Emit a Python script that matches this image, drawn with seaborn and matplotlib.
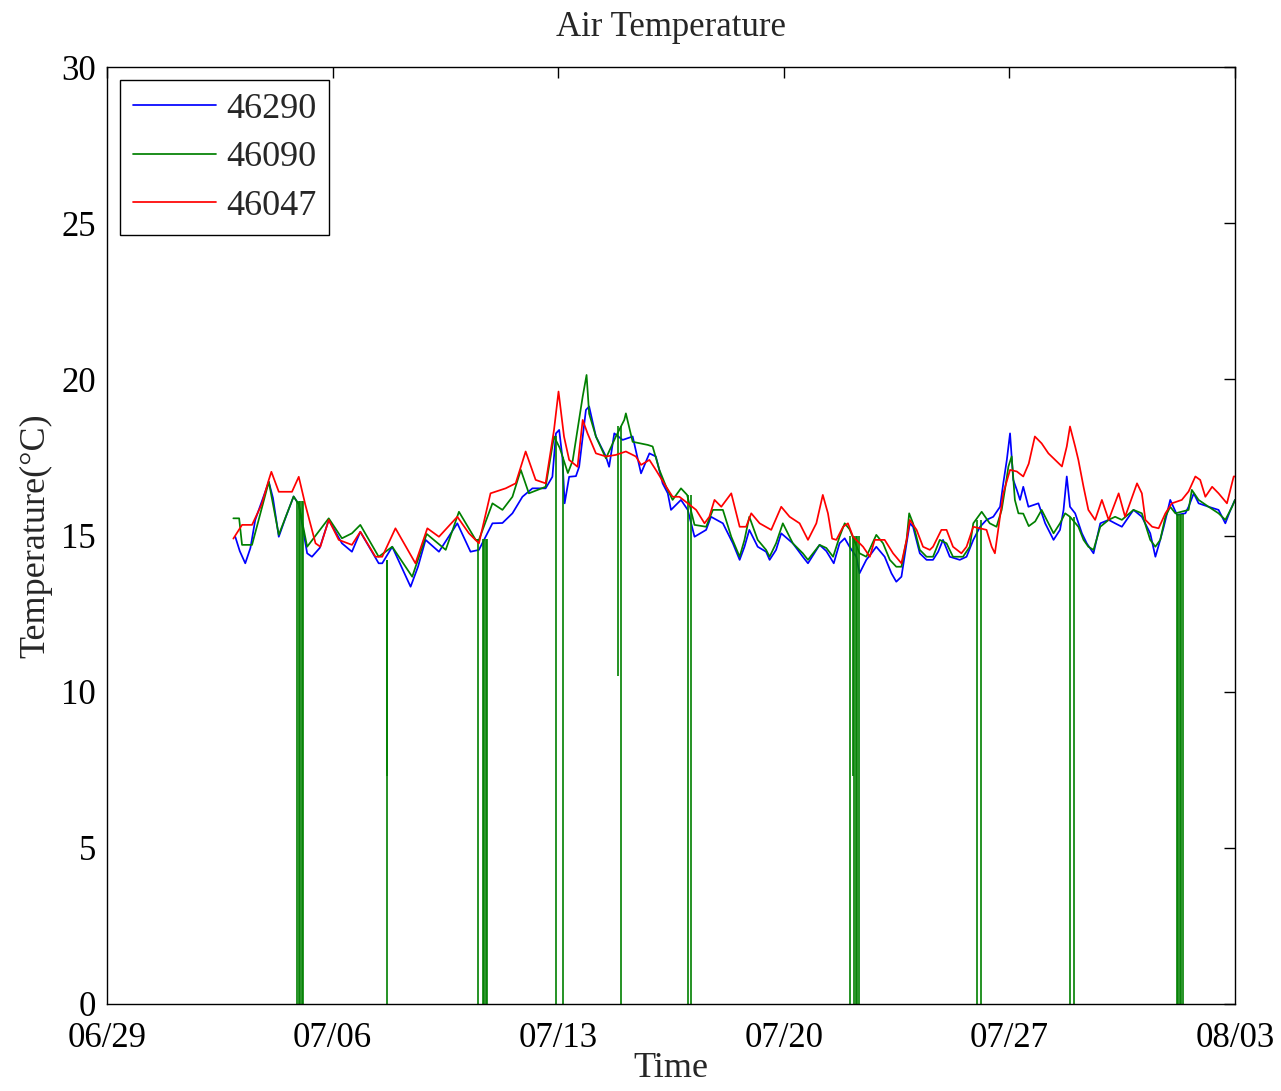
import numpy as np
import pandas as pd
import matplotlib
matplotlib.use("Agg")
import matplotlib.pyplot as plt
import seaborn as sns

# ---- data: day offset from 06/29 and air temperature (degC) ----
blue_day = [3.98, 4.12, 4.29, 4.45, 4.60, 5.02, 5.15, 5.33, 5.55, 5.79, 5.95, 6.21, 6.36, 6.60, 6.88,
            7.29, 7.60, 7.86, 8.43, 8.54, 8.85, 9.42, 9.65, 9.885, 10.30, 10.87, 11.28, 11.54, 11.96,
            12.27, 12.58, 12.89, 13.20, 13.61, 13.82, 13.93, 14.03, 14.13, 14.20, 14.34, 14.55, 14.65,
            14.86, 14.96, 15.17, 15.48, 15.58, 15.74, 16.00, 16.31, 16.57, 16.83, 17.03, 17.24, 17.40,
            17.50, 17.81, 18.02, 18.23, 18.59, 18.74, 19.11, 19.42, 19.63, 19.78, 19.93, 20.19, 20.45,
            20.56, 20.76, 20.92, 21.28, 21.59, 21.75, 22.11, 22.32, 22.55, 22.73, 22.89, 23.04, 23.25,
            23.35, 23.56, 23.72, 23.87, 24.13, 24.34, 24.49, 24.65, 24.81, 24.91, 25.01, 25.22, 25.43,
            25.63, 25.79, 25.94, 26.15, 26.46, 26.67, 26.88, 27.09, 27.29, 27.50, 27.71, 27.81, 27.92,
            28.02, 28.12, 28.23, 28.33, 28.43, 28.59, 28.90, 29.11, 29.37, 29.57, 29.68, 29.78, 29.88,
            30.04, 30.25, 30.40, 30.61, 30.82, 31.08, 31.28, 31.49, 31.85, 32.11, 32.37, 32.53, 32.68,
            32.79, 32.99, 33.20, 33.46, 33.56, 33.72, 33.87, 34.18, 34.49, 34.70, 34.86, 35.00]
blue_temp = [14.96, 14.50, 14.11, 14.60, 15.50, 16.72, 16.20, 14.96, 15.60, 16.25, 16.00, 14.43, 14.32, 14.60, 15.50,
             14.75, 14.48, 15.12, 14.11, 14.11, 14.64, 13.36, 14.00, 14.86, 14.48, 15.39, 14.48, 14.54, 15.39,
             15.40, 15.71, 16.24, 16.51, 16.51, 16.88, 18.27, 18.38, 17.50, 16.03, 16.88, 16.90, 17.20,
             19.02, 19.13, 18.17, 17.53, 17.20, 18.27, 18.06, 18.17, 16.99, 17.63, 17.53, 16.67, 16.35,
             15.82, 16.14, 15.82, 14.96, 15.18, 15.60, 15.39, 14.75, 14.22, 14.64, 15.18, 14.64, 14.48,
             14.22, 14.54, 15.07, 14.75, 14.32, 14.11, 14.70, 14.50, 14.11, 14.75, 14.91, 14.64, 14.32,
             13.79, 14.22, 14.43, 14.64, 14.32, 13.79, 13.52, 13.68, 14.75, 15.39, 15.28, 14.43, 14.22,
             14.22, 14.48, 14.86, 14.32, 14.22, 14.32, 14.86, 15.28, 15.50, 15.60, 15.92, 16.67, 17.42,
             18.27, 16.78, 16.46, 16.14, 16.56, 15.92, 16.03, 15.39, 14.86, 15.18, 15.82, 16.89, 15.92,
             15.71, 15.07, 14.75, 14.43, 15.39, 15.50, 15.39, 15.28, 15.82, 15.60, 15.07, 14.32, 14.86,
             15.28, 16.14, 15.66, 15.71, 15.92, 16.35, 16.03, 15.92, 15.82, 15.39, 15.82, 16.14]

green_day = [3.92, 4.10, 4.19, 4.50, 5.02, 5.33, 5.79, 5.95, 6.21, 6.88, 7.29, 7.60, 7.86, 8.43, 8.85,
             9.47, 9.92, 10.51, 10.92, 11.44, 11.54, 11.96, 12.27, 12.58, 12.84, 13.09, 13.61, 13.87,
             14.05, 14.30, 14.45, 14.76, 14.88, 14.96, 15.17, 15.48, 15.79, 16.05, 16.10, 16.31, 16.78,
             16.93, 17.14, 17.35, 17.55, 17.81, 18.00, 18.23, 18.59, 18.80, 19.11, 19.37, 19.63, 19.78,
             19.93, 20.19, 20.45, 20.56, 20.76, 20.97, 21.28, 21.59, 21.75, 22.11, 22.32, 22.53, 22.73,
             22.89, 23.04, 23.35, 23.56, 23.87, 24.08, 24.29, 24.49, 24.65, 24.81, 24.89, 25.01, 25.22,
             25.43, 25.63, 25.84, 26.05, 26.25, 26.56, 26.77, 26.88, 27.14, 27.39, 27.60, 27.76, 27.86,
             27.97, 28.07, 28.17, 28.28, 28.43, 28.60, 28.80, 29.00, 29.37, 29.57, 29.73, 29.88, 30.14,
             30.30, 30.45, 30.61, 30.82, 31.08, 31.28, 31.49, 31.85, 32.11, 32.37, 32.53, 32.68, 32.84,
             32.99, 33.15, 33.56, 33.66, 33.87, 34.18, 34.49, 34.70, 34.91, 35.00]
green_temp = [15.55, 15.55, 14.70, 14.70, 16.72, 15.02, 16.25, 16.00, 14.64, 15.55, 14.91, 15.07, 15.34, 14.32, 14.64,
              13.68, 15.05, 14.54, 15.76, 14.86, 14.86, 16.03, 15.82, 16.24, 17.10, 16.35, 16.56, 18.17,
              17.80, 17.00, 17.40, 19.45, 20.14, 18.90, 18.17, 17.47, 18.17, 18.70, 18.91, 18.00, 17.90,
              17.85, 17.10, 16.56, 16.14, 16.51, 16.30, 15.34, 15.28, 15.82, 15.82, 14.96, 14.32, 14.86,
              15.60, 14.86, 14.54, 14.32, 14.75, 15.39, 14.75, 14.43, 14.22, 14.70, 14.60, 14.32, 14.96,
              15.39, 15.20, 14.43, 14.32, 15.02, 14.75, 14.22, 14.00, 14.00, 14.86, 15.71, 15.39, 14.54,
              14.32, 14.32, 14.86, 14.75, 14.32, 14.32, 14.64, 15.39, 15.76, 15.39, 15.28, 15.82, 16.46,
              17.21, 17.53, 16.14, 15.71, 15.70, 15.30, 15.45, 15.82, 15.07, 15.39, 15.71, 15.60, 15.28,
              14.86, 14.64, 14.54, 15.28, 15.50, 15.60, 15.50, 15.82, 15.71, 14.86, 14.64, 14.86, 15.60,
              15.92, 15.71, 15.82, 16.46, 16.14, 15.92, 15.71, 15.50, 15.92, 16.14]

red_day = [3.92, 4.19, 4.50, 4.80, 5.02, 5.10, 5.33, 5.74, 5.95, 6.15, 6.47, 6.62, 6.88, 7.19, 7.60,
           7.86, 8.33, 8.54, 8.95, 9.57, 9.94, 10.30, 10.87, 11.23, 11.54, 11.90, 12.37, 12.68, 12.99,
           13.30, 13.61, 13.87, 14.01, 14.18, 14.34, 14.60, 14.76, 14.91, 15.17, 15.48, 15.79, 16.10,
           16.41, 16.57, 16.83, 17.03, 17.35, 17.55, 17.76, 18.28, 18.54, 18.69, 18.85, 19.06, 19.37,
           19.63, 19.83, 19.99, 20.25, 20.61, 20.92, 21.18, 21.49, 21.75, 22.01, 22.21, 22.37, 22.50,
           22.63, 22.84, 22.99, 23.15, 23.46, 23.67, 23.82, 24.13, 24.39, 24.65, 24.81, 24.91, 25.12,
           25.32, 25.53, 25.63, 25.89, 26.05, 26.25, 26.51, 26.67, 26.88, 27.29, 27.45, 27.55, 27.71,
           27.81, 28.02, 28.23, 28.43, 28.60, 28.79, 29.00, 29.21, 29.42, 29.63, 29.78, 29.88, 30.04,
           30.14, 30.30, 30.45, 30.66, 30.87, 31.08, 31.39, 31.59, 31.96, 32.11, 32.22, 32.43, 32.63,
           32.84, 33.04, 33.35, 33.56, 33.77, 33.92, 34.08, 34.29, 34.49, 34.75, 34.96, 35.00]
red_temp = [14.90, 15.34, 15.34, 16.00, 16.78, 17.04, 16.40, 16.40, 16.88, 16.00, 14.75, 14.64, 15.50, 14.86, 14.70,
            15.12, 14.32, 14.32, 15.23, 14.11, 15.23, 14.96, 15.60, 15.07, 14.75, 16.35, 16.51, 16.67, 17.69,
            16.78, 16.67, 18.38, 19.61, 18.17, 17.42, 17.20, 18.70, 18.27, 17.63, 17.53, 17.58, 17.69,
            17.53, 17.26, 17.42, 17.10, 16.56, 16.24, 16.24, 15.82, 15.39, 15.60, 16.14, 15.92, 16.35,
            15.28, 15.28, 15.71, 15.39, 15.18, 15.92, 15.60, 15.39, 14.86, 15.39, 16.30, 15.71, 14.90,
            14.86, 15.28, 15.39, 14.96, 14.64, 14.32, 14.86, 14.86, 14.43, 14.11, 14.86, 15.50, 15.18,
            14.64, 14.54, 14.64, 15.18, 15.18, 14.64, 14.43, 14.64, 15.28, 15.18, 14.64, 14.43, 15.60,
            16.35, 17.10, 17.05, 16.89, 17.30, 18.17, 17.95, 17.63, 17.42, 17.21, 17.85, 18.49, 17.85,
            17.42, 16.56, 15.82, 15.50, 16.14, 15.50, 16.35, 15.60, 16.67, 16.35, 15.50, 15.28, 15.23,
            15.71, 16.03, 16.14, 16.41, 16.89, 16.78, 16.24, 16.56, 16.35, 16.03, 16.89, 16.89]

# 46090 sensor dropouts (vertical drops of the green series)
drop_day = [5.906, 5.953, 6.000, 6.046, 6.093, 8.680, 8.700, 11.511, 11.657, 11.703, 11.750, 11.797,
            13.926, 14.134, 15.844, 15.947, 18.020, 18.123, 23.043, 23.149, 23.189, 23.236, 23.283,
            23.329, 26.981, 27.115, 29.882, 30.006, 33.199, 33.246, 33.292, 33.339, 33.385]
drop_top = [16.1, 16.1, 16.1, 16.1, 16.1, 14.2, 14.2, 14.9, 14.9, 14.9, 14.9, 14.9,
            18.2, 17.5, 18.5, 18.5, 16.3, 16.3, 15.0, 15.0, 15.0, 15.0, 15.0,
            15.0, 15.5, 15.5, 15.6, 15.6, 15.7, 15.7, 15.7, 15.7, 15.7]
drop_bottom = [0, 0, 0, 0, 0, 7.3, 0, 0, 0, 0, 0, 0,
               0, 0, 10.5, 0, 0, 0, 0, 7.3, 0, 0, 0,
               0, 0, 0, 0, 0, 0, 0, 0, 0, 0]

series_names = ["46290", "46090", "46047"]
series_colors = ["#0000ff", "#008000", "#ff0000"]
tick_days = [0, 7, 14, 21, 28, 35]
tick_labels = ["06/29", "07/06", "07/13", "07/20", "07/27", "08/03"]

# ---- figure ----
sns.set_style("white")
plt.rcParams["font.family"] = ["Liberation Serif", "DejaVu Serif"]

fig = plt.figure(figsize=(12.81, 10.91), dpi=100)
ax = fig.add_axes([107 / 1281, 1 - 1004 / 1091, (1235 - 107) / 1281, (1004 - 67) / 1091])

frames = [
    pd.DataFrame({"day": blue_day, "temp": blue_temp}),
    pd.DataFrame({"day": green_day, "temp": green_temp}),
    pd.DataFrame({"day": red_day, "temp": red_temp}),
]
for df, name, col in zip(frames, series_names, series_colors):
    sns.lineplot(data=df, x="day", y="temp", ax=ax, color=col, label=name,
                 linewidth=1.25, sort=False, estimator=None)
    if name == "46090":
        ax.vlines(drop_day, drop_bottom, drop_top, colors=col, linewidth=1.2)

ax.set_xlim(0, 35)
ax.set_ylim(0, 30)
ax.set_xticks(tick_days)
ax.set_xticklabels(tick_labels)
ax.set_yticks([0, 5, 10, 15, 20, 25, 30])
ax.tick_params(direction="in", length=8, width=1.0, top=True, right=True,
               labelsize=25, colors="black")
ax.tick_params(axis="x", pad=13)
ax.tick_params(axis="y", pad=8)
for sp in ax.spines.values():
    sp.set_visible(True)
    sp.set_color("black")
    sp.set_linewidth(1.0)

ax.set_xlabel("Time", fontsize=26, labelpad=-2)
ax.set_ylabel("Temperature(°C)", fontsize=26, labelpad=6)
ax.set_title("Air Temperature", fontsize=25, pad=22)

leg = ax.legend(loc="upper left", fontsize=26, frameon=True, fancybox=False, framealpha=1,
                edgecolor="black", handlelength=2.3, handletextpad=0.3, labelspacing=0.42,
                borderpad=0.35, borderaxespad=0.36)
leg.get_frame().set_linewidth(1.0)

fig.savefig("out.png", dpi=100)
